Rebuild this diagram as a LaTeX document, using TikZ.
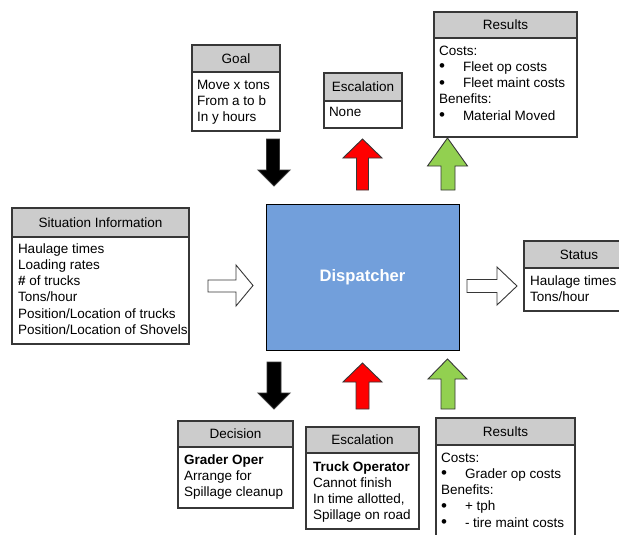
\documentclass[tikz,border=0pt]{standalone}
\usepackage{fontspec}
\setmainfont{Liberation Sans}
\definecolor{boxline}{RGB}{55,55,55}
\definecolor{hdrfill}{RGB}{204,204,204}
\definecolor{dispfill}{RGB}{114,159,219}
\definecolor{upred}{RGB}{255,0,0}
\definecolor{upgreen}{RGB}{146,208,80}
% first-line strut: fixes the distance from a text block's top to its first baseline
\newcommand\firstline{\rule{0pt}{10.5pt}}
\newcommand\bul[2][24pt]{\makebox[#1][l]{\raisebox{-0.6pt}{\fontsize{17}{16}\selectfont\textbullet}}#2}
% titled box: name, x, y, width, header height, body height, title
\newcommand\infobox[7]{%
  \node[bodyb, anchor=north west, minimum width=#4pt, minimum height=#6pt] (#1B) at (#2,#3+#5) {};
  \node[hdr, anchor=north west, minimum width=#4pt, minimum height=#5pt] (#1H) at (#2,#3) {#7};
  \draw[sepline] (#1H.south west) -- (#1H.south east);
}
\begin{document}
\begin{tikzpicture}[x=1pt,y=-1pt,
  bodyb/.style={draw=boxline, fill=white, line width=1.2pt, inner sep=0pt, outer sep=0pt},
  hdr/.style={draw=boxline, fill=hdrfill, line width=1.2pt, inner sep=0pt, outer sep=0pt,
    font=\fontsize{13.5}{16}\selectfont, text height=9.7pt, text depth=0pt},
  sepline/.style={draw=boxline, line width=2pt},
  txt/.style={inner sep=0pt, outer sep=0pt, align=left, anchor=north west},
  blockarrow/.style={draw=boxline, line width=0.9pt, line join=miter},
  disp/.style={draw=black, fill=dispfill, line width=1pt, inner sep=0pt,
    minimum width=193pt, minimum height=146pt, text=white,
    font=\fontsize{16.6}{20}\selectfont\bfseries},
]
\useasboundingbox (0,0) rectangle (619,535);
\clip (0,0) rectangle (619,535);
\fill[white] (0,0) rectangle (619,535);

% central box
\node[disp] (dispatcher) at (362.5,277) {Dispatcher};

% titled boxes
\infobox{sit}{12}{208}{177}{29}{107}{Situation Information}
\infobox{goal}{192}{45}{88}{27}{59}{Goal}
\infobox{escTop}{324}{73}{78}{28}{27}{Escalation}
\infobox{resTop}{434}{12}{143}{26}{99}{Results}
\infobox{status}{524}{241}{110}{27}{43}{Status}
\infobox{decision}{178}{421}{115}{26}{61}{Decision}
\infobox{escBot}{306}{427}{113}{26}{76}{Escalation}
\infobox{resBot}{436}{418}{139}{27}{130}{Results}

% box texts
\begin{scope}[every node/.append style={font=\fontsize{13.5}{16.3}\selectfont}]
\node[txt] (sitT) at (18,242.5) {\firstline Haulage times\\ Loading rates\\ \textbf{\#} of trucks\\ Tons/hour\\
  Position/Location of trucks\\ Position/Location of Shovels};
\node[txt] (goalT) at (197,78.5) {\firstline Move x tons\\ From a to b\\ In y hours};
\node[txt] (escTopT) at (329,106.5) {\firstline None};
\node[txt] (resTopT) at (439,44.5) {\firstline Costs:\\ \bul{Fleet op costs}\\ \bul{Fleet maint costs}\\
  Benefits:\\ \bul{Material Moved}};
\node[txt] (statusT) at (530,274.5) {\firstline Haulage times\\ Tons/hour};
\node[txt] (decisionT) at (184,453.5) {\firstline\textbf{Grader Oper}\\ Arrange for\\ Spillage cleanup};
\node[txt] (escBotT) at (313,460.5) {\firstline\textbf{Truck Operator}\\ Cannot finish\\ In time allotted,\\ Spillage on road};
\node[txt] (resBotT) at (441,451.5) {\firstline Costs:\\ \bul[24pt]{Grader op costs}\\ Benefits:\\
  \bul[24pt]{+ tph}\\ \bul[24pt]{- tire maint costs}};
\end{scope}

% block arrows, top row
\draw[blockarrow, fill=black] (266.5,139) -- (279.5,139) -- (279.5,170) -- (290,170) -- (274,186)
  -- (258,170) -- (266.5,170) -- cycle;
\draw[blockarrow, fill=upred] (362.5,139) -- (382,158) -- (368.5,158) -- (368.5,190) -- (356.5,190)
  -- (356.5,158) -- (343,158) -- cycle;
\draw[blockarrow, fill=upgreen] (447.5,138) -- (467.5,166) -- (455,166) -- (455,190) -- (441,190)
  -- (441,166) -- (427.5,166) -- cycle;

% block arrows, bottom row
\draw[blockarrow, fill=black] (267,362) -- (281,362) -- (281,393) -- (290,393) -- (274,409)
  -- (258,393) -- (267,393) -- cycle;
\draw[blockarrow, fill=upred] (362.5,363) -- (382,382) -- (369,382) -- (369,409) -- (356,409)
  -- (356,382) -- (343,382) -- cycle;
\draw[blockarrow, fill=upgreen] (447.5,359) -- (467,379) -- (455,379) -- (455,409) -- (441,409)
  -- (441,379) -- (428,379) -- cycle;

% block arrows into and out of the dispatcher
\draw[blockarrow, fill=white] (208,280) -- (236,280) -- (236,265) -- (253,285.5) -- (236,306)
  -- (236,292) -- (208,292) -- cycle;
\draw[blockarrow, fill=white] (467,279.5) -- (497,279.5) -- (497,267) -- (517,286) -- (497,305)
  -- (497,292.5) -- (467,292.5) -- cycle;
\end{tikzpicture}
\end{document}
